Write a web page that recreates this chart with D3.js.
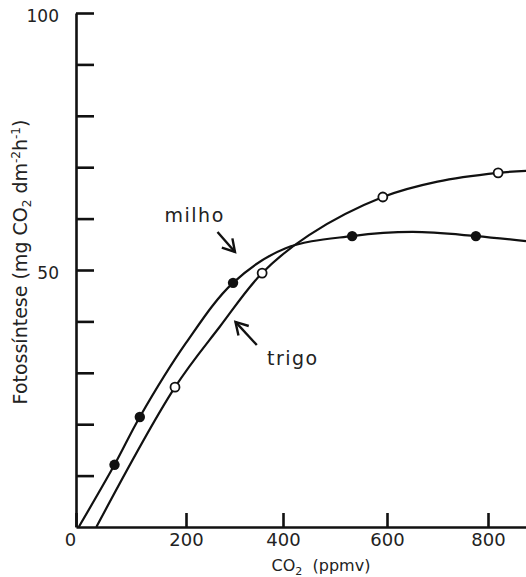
<!DOCTYPE html>
<html>
<head>
<meta charset="utf-8">
<script src="https://cdn.jsdelivr.net/npm/d3@7"></script>
<style>
  body { margin: 0; background: #fff; }
  text { font-family: "DejaVu Sans", Verdana, sans-serif; fill: #222; }
</style>
</head>
<body>
<svg width="526" height="577"></svg>
<script>
// measured points (CO2 ppmv, photosynthesis)
var milhoX = [70, 116, 297, 533, 776];
var milhoY = [12.1, 21.4, 47.5, 56.6, 56.6];
var trigoX = [180, 357, 592, 820];
var trigoY = [27.2, 49.4, 64.2, 68.9];

// fitted curves
var milhoCurve = [[5, 0], [70, 12.1], [116, 21.4], [200, 35.8], [297, 47.5], [404, 54.2], [533, 56.6], [650, 57.4], [776, 56.6], [875, 55.6]];
var trigoCurve = [[37, 0], [180, 27.2], [270, 39], [357, 49.4], [450, 56.8], [592, 64.2], [700, 67.2], [820, 68.9], [875, 69.3]];

var xTicks = [0, 200, 400, 600, 800];
var yTicks = [10, 20, 30, 40, 50, 60, 70, 80, 90, 100];
var yLabeled = [50, 100];

var labels = [{text: "milho", x: 161, y: 59.3}, {text: "trigo", x: 367, y: 31.5}];
var arrows = [{from: [265, 57.4], to: [301, 53.5]}, {from: [346, 35.4], to: [302, 39.9]}];

var svg = d3.select("svg");

// hand-drawn axis is slightly uneven, so the x scale is piecewise
var x = d3.scaleLinear().domain([0, 200, 400, 600, 800, 875]).range([76, 186, 283, 387, 488, 526]);
var y = d3.scaleLinear().domain([0, 100]).range([527, 13]);

var gx = svg.append("g").attr("transform", "translate(0," + y(0) + ")")
  .call(d3.axisBottom(x).tickValues(xTicks).tickSize(-14).tickSizeOuter(0).tickPadding(6));
gx.selectAll("text").style("font-size", "18px").filter(function(d){ return d == 0; }).attr("dx", -6);

var gy = svg.append("g").attr("transform", "translate(" + x(0) + ",0)")
  .call(d3.axisLeft(y).tickValues(yTicks).tickSize(-18).tickSizeOuter(0).tickPadding(17)
    .tickFormat(function(d){ return yLabeled.indexOf(d) >= 0 ? d : ""; }));
gy.selectAll("text").style("font-size", "17px").attr("dy", "0.5em");

svg.selectAll(".domain, .tick line").attr("stroke", "#111").attr("stroke-width", 2.6);
svg.selectAll(".tick text").attr("fill", "#222");

var line = d3.line().x(function(d){ return x(d[0]); }).y(function(d){ return y(d[1]); })
  .curve(d3.curveCatmullRom.alpha(0.5));

[milhoCurve, trigoCurve].forEach(function(c) {
  svg.append("path").attr("d", line(c)).attr("fill", "none").attr("stroke", "#111").attr("stroke-width", 2.2);
});

svg.selectAll(".milho").data(milhoX).enter().append("circle")
  .attr("cx", function(d){ return x(d); })
  .attr("cy", function(d, i){ return y(milhoY[i]); })
  .attr("r", 5.2).attr("fill", "#111");

svg.selectAll(".trigo").data(trigoX).enter().append("circle")
  .attr("cx", function(d){ return x(d); })
  .attr("cy", function(d, i){ return y(trigoY[i]); })
  .attr("r", 4.5).attr("fill", "#fff").attr("stroke", "#111").attr("stroke-width", 1.8);

// arrows
svg.append("defs").append("marker").attr("id", "head")
  .attr("markerUnits", "userSpaceOnUse").attr("orient", "auto")
  .attr("viewBox", "-15 -9 18 18").attr("markerWidth", 18).attr("markerHeight", 18)
  .attr("refX", 0).attr("refY", 0)
  .append("path").attr("d", "M-12,-7L0,0L-12,7").attr("fill", "none").attr("stroke", "#111").attr("stroke-width", 2.4);

svg.selectAll(".arrow").data(arrows).enter().append("line")
  .attr("x1", function(d){ return x(d.from[0]); }).attr("y1", function(d){ return y(d.from[1]); })
  .attr("x2", function(d){ return x(d.to[0]); }).attr("y2", function(d){ return y(d.to[1]); })
  .attr("stroke", "#111").attr("stroke-width", 2.4).attr("marker-end", "url(#head)");

svg.selectAll(".lab").data(labels).enter().append("text")
  .attr("x", function(d){ return x(d.x); }).attr("y", function(d){ return y(d.y); })
  .style("font-size", "19px").style("letter-spacing", "1.5px")
  .text(function(d){ return d.text; });

// axis titles
var xt = svg.append("text").attr("x", 321).attr("y", 571).attr("text-anchor", "middle").style("font-size", "16px");
xt.append("tspan").text("CO");
xt.append("tspan").attr("dy", 4).style("font-size", "11px").text("2");
xt.append("tspan").attr("dy", -4).text("\u00a0 (ppmv)");

var yt = svg.append("text").attr("transform", "translate(27,262) rotate(-90)").attr("text-anchor", "middle").style("font-size", "19px");
yt.append("tspan").text("Fotossíntese (mg CO");
yt.append("tspan").attr("dy", 4).style("font-size", "12px").text("2");
yt.append("tspan").attr("dy", -4).text(" dm");
yt.append("tspan").attr("dy", -7).style("font-size", "12px").text("-2");
yt.append("tspan").attr("dy", 7).text("h");
yt.append("tspan").attr("dy", -7).style("font-size", "12px").text("-1");
yt.append("tspan").attr("dy", 7).text(")");
</script>
</body>
</html>
